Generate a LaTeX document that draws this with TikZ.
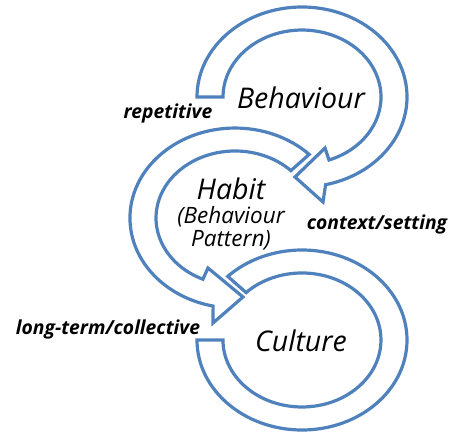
\documentclass[tikz,border=0pt]{standalone}
\usepackage{fontspec}
\setmainfont{Open Sans}
\usepackage{tikz}
\definecolor{ringblue}{RGB}{79,129,189}

\begin{document}
\begin{tikzpicture}[x=1pt, y=1pt,
    ring/.style={draw=ringblue, line width=3.2pt, fill=white},
    title/.style={font=\fontsize{28.5}{32}\selectfont\itshape},
    subtitle/.style={font=\fontsize{22.5}{23}\selectfont\itshape, align=center},
    tag/.style={font=\fontsize{19.3}{22}\selectfont\bfseries\itshape}]
\useasboundingbox (0,0) rectangle (450,432);

\draw[ring] (197,335) arc[start angle=180, end angle=-77, x radius=105, y radius=90]
    -- (323,230) -- (295,255) -- (325,284) -- (329,272)
    arc[start angle=-70, end angle=180, x radius=79, y radius=67] -- cycle;
\draw[ring] (309.2,277.6) arc[start angle=45, end angle=258, x radius=105, y radius=90]
    -- (213,109) -- (243,135) -- (208,164) -- (202.9,152.8)
    arc[start angle=246, end angle=45, x radius=79, y radius=67] -- cycle;
\draw[ring] (197,92) arc[start angle=180, end angle=495, x radius=105, y radius=90]
    -- (246.1,139.4)
    arc[start angle=495, end angle=180, x radius=79, y radius=67] -- cycle;

\node[title] (behaviour) at (301,334) {Behaviour};
\node[title] (habit) at (231,243) {Habit};
\node[subtitle] (pattern) at (231,203.5) {(Behaviour\\Pattern)};
\node[title] (culture) at (301,91) {Culture};

\node[tag] (repetitive) at (168,319) {repetitive};
\node[tag] (context) at (377,208) {context/setting};
\node[tag] (longterm) at (108,103) {long-term/collective};
\end{tikzpicture}
\end{document}
